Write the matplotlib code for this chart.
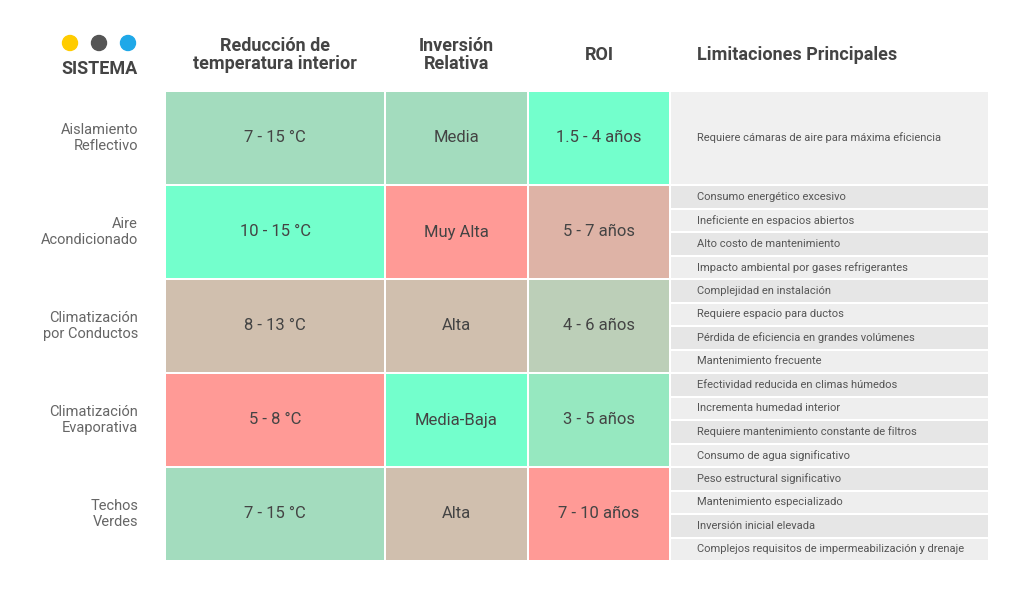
import matplotlib.pyplot as plt
from matplotlib.patches import Rectangle, Circle

plt.rcParams['font.family'] = ['Roboto', 'DejaVu Sans']

headers = ["Reducción de\ntemperatura interior", "Inversión\nRelativa", "ROI", "Limitaciones Principales"]
systems = ["Aislamiento\nReflectivo", "Aire\nAcondicionado", "Climatización\npor Conductos",
           "Climatización\nEvaporativa", "Techos\nVerdes"]
temp = ["7 - 15 °C", "10 - 15 °C", "8 - 13 °C", "5 - 8 °C", "7 - 15 °C"]
inversion = ["Media", "Muy Alta", "Alta", "Media-Baja", "Alta"]
roi = ["1.5 - 4 años", "5 - 7 años", "4 - 6 años", "3 - 5 años", "7 - 10 años"]
limits = [
    ["Requiere cámaras de aire para máxima eficiencia"],
    ["Consumo energético excesivo", "Ineficiente en espacios abiertos",
     "Alto costo de mantenimiento", "Impacto ambiental por gases refrigerantes"],
    ["Complejidad en instalación", "Requiere espacio para ductos",
     "Pérdida de eficiencia en grandes volúmenes", "Mantenimiento frecuente"],
    ["Efectividad reducida en climas húmedos", "Incrementa humedad interior",
     "Requiere mantenimiento constante de filtros", "Consumo de agua significativo"],
    ["Peso estructural significativo", "Mantenimiento especializado",
     "Inversión inicial elevada", "Complejos requisitos de impermeabilización y drenaje"],
]
colors = [
    ["#a3dcbe", "#a3dcbe", "#73ffcc"],
    ["#73ffcc", "#ff9a96", "#deb3a6"],
    ["#d0bfae", "#d0bfae", "#bccfb8"],
    ["#ff9a96", "#73ffcc", "#96e8c0"],
    ["#a3dcbe", "#d0bfae", "#ff9a96"],
]

fig = plt.figure(figsize=(10.24, 5.98), dpi=100)
ax = fig.add_axes([0, 0, 1, 1])
ax.set_xlim(0, 1024)
ax.set_ylim(598, 0)
ax.axis('off')

dark = "#444444"
cols = [(166, 384), (386, 527), (529, 669), (671, 988)]
row_top, row_h, gap = 92, 92, 2

# logo dots + SISTEMA
for cx, c in zip([70, 99, 128], ["#ffcc00", "#555555", "#1fa8e8"]):
    ax.add_patch(Circle((cx, 43), 7.5, color=c))
ax.text(99, 69, "SISTEMA", ha='center', va='center', fontsize=13, fontweight='bold', color=dark)

for j, h in enumerate(headers):
    x0, x1 = cols[j]
    if j == 3:
        ax.text(697, 55, h, ha='left', va='center', fontsize=13, fontweight='bold', color=dark)
    else:
        ax.text((x0 + x1) / 2, 55, h, ha='center', va='center', fontsize=13,
                fontweight='bold', color=dark, linespacing=1.05)

for i in range(len(systems)):
    y0 = row_top + i * (row_h + gap)
    ym = y0 + row_h / 2
    ax.text(138, ym, systems[i], ha='right', va='center', fontsize=10.5, color="#666666")
    for j, val in enumerate([temp[i], inversion[i], roi[i]]):
        x0, x1 = cols[j]
        ax.add_patch(Rectangle((x0, y0), x1 - x0, row_h, color=colors[i][j], lw=0))
        ax.text((x0 + x1) / 2, ym, val, ha='center', va='center', fontsize=12, color=dark)
    x0, x1 = cols[3]
    items = limits[i]
    n = len(items)
    sh = (row_h - (n - 1) * gap) / n
    for k, t in enumerate(items):
        sy = y0 + k * (sh + gap)
        fc = "#f0f0f0" if n == 1 else ("#e6e6e6" if k % 2 == 0 else "#eeeeee")
        ax.add_patch(Rectangle((x0, sy), x1 - x0, sh, color=fc, lw=0))
        ax.text(697, sy + sh / 2, t, ha='left', va='center', fontsize=8, color="#555555")

fig.savefig("out.png", dpi=100, facecolor="white")
